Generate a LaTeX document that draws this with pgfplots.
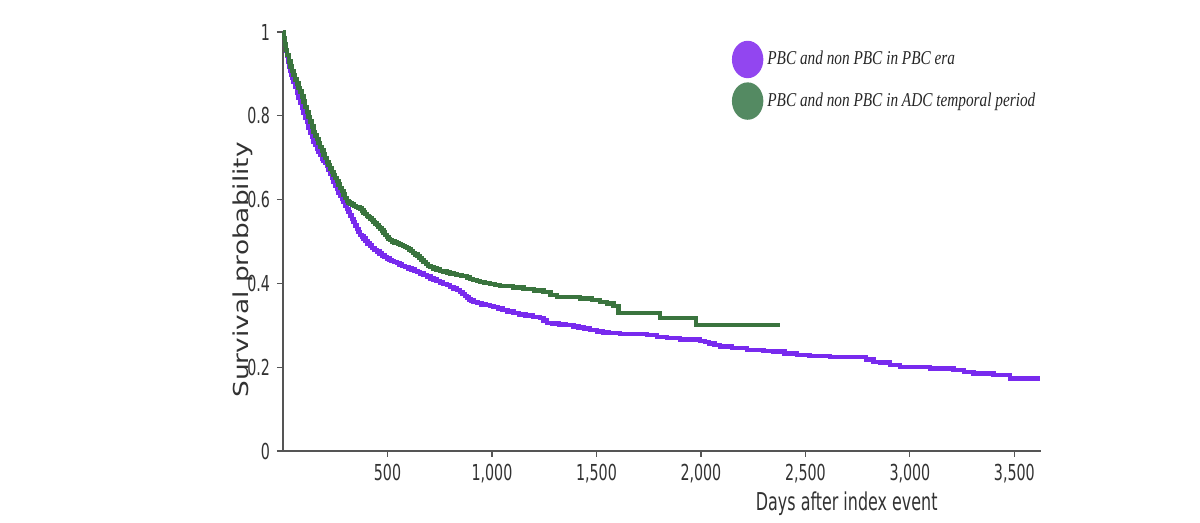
\documentclass[border=0pt]{standalone}
\usepackage{fontspec}
\usepackage{pgfplots}
\pgfplotsset{compat=1.18}
\setmainfont{DejaVu Sans}
\newfontfamily\tickfont[FakeStretch=0.72]{DejaVu Sans Condensed}
\newfontfamily\ylabfont[FakeStretch=1.28]{DejaVu Sans}
\newfontfamily\legfont[FakeStretch=0.78]{Liberation Serif}

\definecolor{kmpurple}{RGB}{120,42,238}
\definecolor{kmgreen}{RGB}{58,116,62}
\definecolor{legpurple}{RGB}{146,70,240}
\definecolor{leggreen}{RGB}{84,138,98}
\definecolor{axisgray}{RGB}{85,85,85}
\definecolor{labelgray}{RGB}{50,50,50}

% Kaplan-Meier estimates: days after index event, survival probability
\pgfplotstableread{
d s
0 1.0
5 0.985
10 0.97
15 0.955
20 0.942
25 0.93
30 0.918
35 0.907
40 0.897
45 0.89
50 0.882
58 0.87
66 0.856
74 0.843
82 0.83
90 0.818
98 0.807
106 0.796
114 0.786
122 0.772
130 0.76
138 0.749
146 0.738
154 0.73
162 0.722
170 0.714
178 0.706
186 0.698
194 0.693
202 0.688
210 0.681
218 0.672
226 0.662
234 0.652
242 0.643
250 0.634
258 0.625
266 0.617
274 0.609
282 0.601
290 0.594
298 0.586
306 0.578
314 0.57
322 0.562
330 0.554
337 0.547
345 0.538
353 0.53
361 0.522
369 0.516
377 0.512
385 0.507
395 0.501
405 0.495
415 0.49
425 0.485
437 0.480
449 0.476
461 0.471
473 0.467
485 0.463
497 0.459
509 0.456
520 0.453
532 0.451
545 0.448
558 0.445
570 0.442
585 0.439
600 0.436
615 0.433
630 0.430
643 0.427
656 0.424
673 0.42
690 0.416
705 0.412
720 0.409
735 0.405
750 0.402
767 0.399
784 0.396
800 0.392
815 0.388
832 0.384
848 0.380
859 0.375
870 0.370
880 0.366
890 0.362
901 0.359
912 0.356
931 0.353
950 0.350
970 0.348
990 0.346
1007 0.344
1028 0.34
1050 0.337
1075 0.333
1103 0.329
1130 0.326
1160 0.323
1195 0.32
1231 0.317
1247 0.311
1263 0.306
1290 0.304
1320 0.302
1355 0.300
1390 0.297
1415 0.295
1440 0.292
1470 0.289
1502 0.285
1530 0.283
1560 0.281
1613 0.279
1680 0.279
1741 0.277
1790 0.272
1837 0.269
1900 0.266
1996 0.263
2020 0.26
2040 0.257
2065 0.253
2092 0.249
2150 0.246
2220 0.241
2300 0.238
2347 0.237
2400 0.233
2459 0.229
2520 0.227
2618 0.225
2762 0.225
2790 0.218
2825 0.213
2860 0.211
2905 0.205
2953 0.201
3097 0.197
3140 0.197
3208 0.193
3260 0.189
3304 0.185
3400 0.181
3479 0.173
3623 0.173
}\pbcera

\pgfplotstableread{
d s
0 1.0
5 0.985
10 0.97
15 0.957
20 0.945
28 0.93
35 0.918
42 0.907
50 0.897
58 0.887
66 0.877
74 0.867
82 0.858
90 0.846
98 0.834
106 0.821
114 0.809
122 0.797
130 0.786
138 0.774
146 0.762
154 0.753
162 0.744
170 0.735
178 0.726
186 0.717
194 0.708
202 0.699
210 0.690
218 0.682
226 0.674
234 0.666
242 0.659
250 0.652
258 0.644
266 0.636
274 0.628
282 0.62
290 0.612
298 0.604
306 0.597
314 0.593
321 0.591
330 0.588
340 0.585
350 0.583
360 0.581
369 0.579
377 0.574
385 0.569
393 0.565
401 0.561
409 0.558
417 0.555
425 0.551
433 0.547
441 0.543
449 0.539
457 0.535
465 0.531
473 0.526
481 0.521
489 0.516
497 0.511
505 0.506
513 0.503
523 0.5
533 0.498
543 0.496
553 0.494
563 0.491
573 0.489
583 0.487
593 0.484
603 0.481
613 0.477
623 0.473
633 0.469
643 0.465
653 0.461
663 0.456
673 0.451
683 0.446
693 0.442
705 0.439
720 0.436
735 0.433
750 0.430
767 0.428
784 0.426
800 0.424
815 0.422
830 0.42
855 0.417
880 0.414
895 0.411
910 0.408
927 0.406
944 0.404
965 0.401
990 0.398
1015 0.396
1039 0.394
1100 0.390
1151 0.386
1200 0.383
1246 0.380
1280 0.372
1311 0.367
1422 0.364
1480 0.360
1518 0.356
1550 0.352
1581 0.346
1605 0.330
1805 0.317
1977 0.301
2379 0.301
}\adcperiod

\begin{document}
\begin{tikzpicture}
\path[use as bounding box] (-141.5pt,-36pt) rectangle (458.5pt,225.5pt);
\begin{axis}[
  at={(0pt,0pt)}, anchor=south west,
  scale only axis,
  width=378.85pt, height=209.5pt,
  xmin=0, xmax=3626, ymin=0, ymax=1,
  axis lines*=left,
  axis line style={draw=axisgray, line width=0.7pt},
  xtick={500,1000,1500,2000,2500,3000,3500},
  ytick={0,0.2,0.4,0.6,0.8,1},
  yticklabels={0,0.2,0.4,0.6,0.8,1},
  tick align=outside,
  major tick length=3pt,
  tick style={draw=axisgray, line width=0.6pt},
  /pgf/number format/assume math mode=true,
  /pgf/number format/1000 sep={,},
  tick label style={font=\tickfont\fontsize{11}{13}\selectfont, text=labelgray},
  xlabel={Days after index event},
  xlabel style={at={(axis description cs:0.744,0)}, anchor=center, yshift=-26.5pt,
    font=\tickfont\fontsize{12.3}{14}\selectfont, text=labelgray},
  ylabel={Survival probability},
  ylabel style={at={(axis description cs:0,0.432)}, anchor=center, yshift=20pt,
    font=\ylabfont\fontsize{10.3}{12}\selectfont, text=labelgray},
  clip=false,
  legend cell align=left,
  legend style={at={(axis description cs:0.592,0.98)}, anchor=north west,
    draw=none, fill=none, inner sep=0pt, row sep=2.1pt,
    font=\legfont\itshape\fontsize{9.8}{11}\selectfont, text=black!85},
]
\addplot[const plot mark left, kmpurple, line width=2.2pt,
  legend image code/.code={\fill[legpurple] (0pt,0pt) ellipse [x radius=6.75pt, y radius=8.25pt];}]
  table[x=d, y=s] {\pbcera};
\addlegendentry{PBC and non PBC in PBC era}
\addplot[const plot mark left, kmgreen, line width=2.2pt,
  legend image code/.code={\fill[leggreen] (0pt,0pt) ellipse [x radius=6.75pt, y radius=8.25pt];}]
  table[x=d, y=s] {\adcperiod};
\addlegendentry{PBC and non PBC in ADC temporal period}
\end{axis}
\end{tikzpicture}
\end{document}
